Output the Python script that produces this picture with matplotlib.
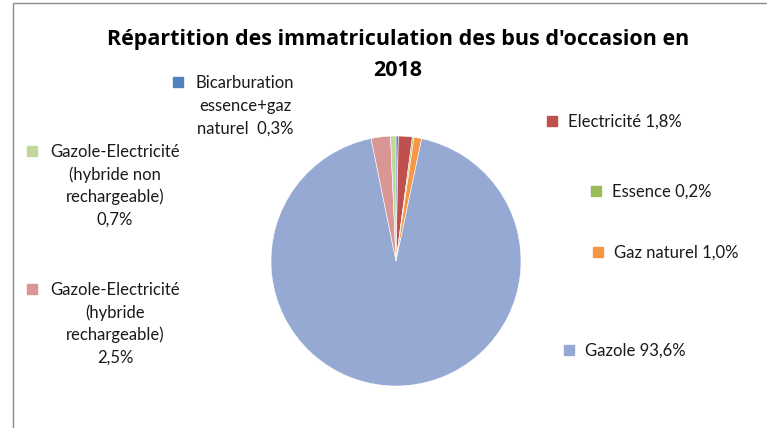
import matplotlib.pyplot as plt
from matplotlib.patches import Rectangle

categories = ["Bicarburation\nessence+gaz\nnaturel  0,3%", "Electricité 1,8%", "Essence 0,2%",
              "Gaz naturel 1,0%", "Gazole 93,6%",
              "Gazole-Electricité\n(hybride\nrechargeable)\n2,5%",
              "Gazole-Electricité\n(hybride non\nrechargeable)\n0,7%"]
values = [0.3, 1.8, 0.2, 1.0, 93.6, 2.5, 0.7]
colors = ["#4F81BD", "#C0504D", "#9BBB59", "#F79646", "#95A9D3", "#D99694", "#C3D69B"]

W, H = 767, 428
fig = plt.figure(figsize=(W / 100, H / 100), dpi=100)

# chart frame
fig.patches.append(Rectangle((13 / W, -0.1), 1.1, 1 - 3 / H + 0.1, transform=fig.transFigure,
                             fill=False, ec="#8c8c8c", lw=1.0))

# pie: center (396, 261) px, radius 125 px
cx, cy, r = 396, 261, 125
ax = fig.add_axes([(cx - r) / W, (H - cy - r) / H, 2 * r / W, 2 * r / H])
ax.pie(values, colors=colors, startangle=90, counterclock=False,
       wedgeprops=dict(edgecolor="white", linewidth=0.4))
ax.set_xlim(-1, 1)
ax.set_ylim(-1, 1)
ax.set_aspect("auto")
ax.axis("off")

title_font = dict(ha="center", va="baseline", fontsize=15.5, fontweight="bold",
                  family=["Open Sans", "DejaVu Sans"], color="black")
fig.text(398 / W, 1 - 45 / H, "Répartition des immatriculation des bus d'occasion en", **title_font)
fig.text(398 / W, 1 - 76 / H, "2018", **title_font)

# label positions: (marker x, marker y, text x, alignment)
label_pos = [(178, 82, 245, "center"), (552, 121, 568, "left"), (596, 191, 612, "left"),
             (598, 252, 614, "left"), (569, 350, 585, "left"),
             (32, 289, 115, "center"), (32, 151, 115, "center")]
lh = 22.6
for lab, col, (mx, my, tx, al) in zip(categories, colors, label_pos):
    fig.patches.append(Rectangle(((mx - 5) / W, (H - my - 5) / H), 10 / W, 10 / H,
                                 transform=fig.transFigure, color=col))
    for i, line in enumerate(lab.split("\n")):
        fig.text(tx / W, (H - my - 6 - i * lh) / H, line, ha=al, va="baseline",
                 fontsize=12, family=["Lato", "DejaVu Sans"], color="#1a1a1a")

fig.savefig("out.png", dpi=100)
